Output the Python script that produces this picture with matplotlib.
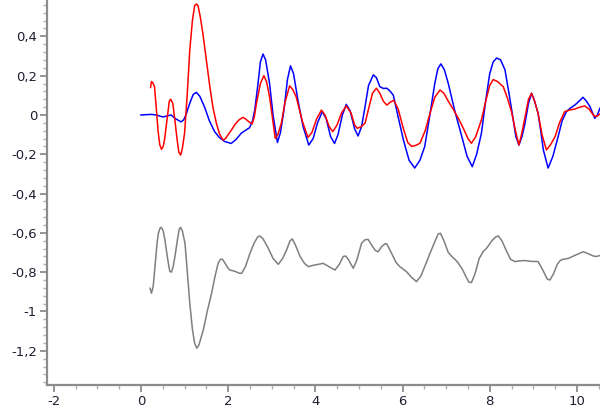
import numpy as np
import matplotlib
matplotlib.use("Agg")
import matplotlib.pyplot as plt
from matplotlib.ticker import MultipleLocator, FuncFormatter

# blue series (x, y)
blue_x = [0.0, 0.23, 0.35, 0.5, 0.6, 0.69, 0.8, 0.92, 0.98, 1.03, 1.12, 1.2, 1.27, 1.35, 1.46,
          1.57, 1.69, 1.8, 1.92, 2.07, 2.18, 2.30, 2.40, 2.49, 2.56, 2.61, 2.68, 2.74, 2.80, 2.86,
          2.95, 3.03, 3.13, 3.2, 3.28, 3.36, 3.43, 3.50, 3.60, 3.72, 3.85, 3.95, 4.05, 4.16, 4.25,
          4.35, 4.44, 4.52, 4.62, 4.71, 4.80, 4.90, 4.98, 5.06, 5.14, 5.22, 5.33, 5.40, 5.48, 5.56,
          5.64, 5.72, 5.79, 5.9, 6.02, 6.15, 6.28, 6.40, 6.51, 6.62, 6.74, 6.81, 6.88, 6.96, 7.05,
          7.2, 7.36, 7.48, 7.60, 7.70, 7.81, 7.9, 8.0, 8.08, 8.16, 8.25, 8.35, 8.45, 8.54, 8.60,
          8.67, 8.74, 8.81, 8.89, 8.96, 9.03, 9.11, 9.17, 9.23, 9.34, 9.45, 9.57, 9.66, 9.76, 9.85,
          9.95, 10.05, 10.14, 10.22, 10.30, 10.36, 10.41, 10.47, 10.53]
blue_y = [0.0, 0.003, 0.0, -0.01, -0.005, 0.0, -0.02, -0.035, -0.025, 0.0, 0.06, 0.105, 0.115, 0.095, 0.04,
          -0.03, -0.085, -0.115, -0.135, -0.145, -0.125, -0.093, -0.078, -0.065, -0.03, 0.025, 0.15, 0.27, 0.31, 0.28,
          0.16, 0.0, -0.14, -0.09, 0.025, 0.18, 0.25, 0.21, 0.076, -0.06, -0.153, -0.12, -0.04, 0.017, -0.02,
          -0.11, -0.145, -0.1, 0.0, 0.054, 0.02, -0.07, -0.107, -0.06, 0.042, 0.15, 0.204, 0.19, 0.144, 0.135,
          0.136, 0.12, 0.10, -0.01, -0.127, -0.23, -0.27, -0.23, -0.16, -0.01, 0.16, 0.235, 0.26, 0.23, 0.16,
          0.02, -0.11, -0.21, -0.263, -0.2, -0.093, 0.06, 0.21, 0.27, 0.29, 0.28, 0.23, 0.1, -0.025, -0.11,
          -0.153, -0.11, -0.042, 0.06, 0.11, 0.07, 0.008, -0.08, -0.178, -0.27, -0.21, -0.11, -0.03, 0.017, 0.035,
          0.05, 0.07, 0.09, 0.07, 0.042, 0.01, -0.017, 0.0, 0.035]

# red series
red_x = [0.22, 0.24, 0.27, 0.31, 0.35, 0.39, 0.43, 0.47, 0.51, 0.54, 0.6, 0.65, 0.68, 0.73, 0.78,
         0.83, 0.87, 0.91, 0.95, 1.0, 1.06, 1.12, 1.18, 1.23, 1.27, 1.31, 1.36, 1.42, 1.5, 1.58,
         1.65, 1.73, 1.80, 1.88, 1.94, 2.0, 2.08, 2.15, 2.25, 2.34, 2.40, 2.45, 2.55, 2.60, 2.65,
         2.74, 2.82, 2.88, 2.95, 3.02, 3.08, 3.14, 3.22, 3.30, 3.41, 3.48, 3.56, 3.70, 3.83, 3.92,
         4.03, 4.14, 4.22, 4.32, 4.40, 4.50, 4.60, 4.71, 4.82, 4.90, 4.96, 5.05, 5.14, 5.22, 5.31,
         5.40, 5.48, 5.56, 5.64, 5.72, 5.80, 5.90, 6.02, 6.12, 6.21, 6.30, 6.40, 6.52, 6.62, 6.74,
         6.86, 6.95, 7.05, 7.16, 7.28, 7.40, 7.50, 7.58, 7.68, 7.81, 7.92, 8.0, 8.08, 8.18, 8.31,
         8.40, 8.50, 8.59, 8.67, 8.74, 8.81, 8.89, 8.96, 9.03, 9.11, 9.20, 9.30, 9.40, 9.50, 9.60,
         9.72, 9.83, 9.95, 10.07, 10.18, 10.28, 10.36, 10.41, 10.47, 10.53]
red_y = [0.14, 0.17, 0.165, 0.144, 0.04, -0.076, -0.15, -0.175, -0.16, -0.127, -0.02, 0.07, 0.08, 0.06, -0.03,
         -0.127, -0.19, -0.204, -0.17, -0.093, 0.1, 0.33, 0.48, 0.555, 0.565, 0.555, 0.5, 0.415, 0.28, 0.144,
         0.04, -0.042, -0.095, -0.127, -0.12, -0.10, -0.075, -0.05, -0.025, -0.012, -0.02, -0.03, -0.046, -0.01, 0.06,
         0.16, 0.20, 0.17, 0.093, -0.02, -0.119, -0.1, -0.042, 0.06, 0.148, 0.13, 0.093, -0.03, -0.114, -0.09,
         -0.02, 0.025, 0.0, -0.06, -0.085, -0.05, 0.01, 0.046, 0.01, -0.05, -0.068, -0.06, -0.042, 0.03, 0.11,
         0.136, 0.11, 0.07, 0.05, 0.065, 0.075, 0.03, -0.07, -0.14, -0.16, -0.155, -0.144, -0.08, 0.0, 0.09,
         0.127, 0.11, 0.07, 0.03, -0.017, -0.07, -0.12, -0.144, -0.11, -0.025, 0.08, 0.15, 0.18, 0.17, 0.144,
         0.09, 0.017, -0.08, -0.153, -0.09, -0.01, 0.08, 0.11, 0.07, 0.008, -0.1, -0.178, -0.15, -0.11, -0.04,
         0.017, 0.025, 0.03, 0.04, 0.046, 0.03, 0.005, -0.008, -0.005, 0.005]

# gray series
gray_x = [0.21, 0.24, 0.28, 0.33, 0.37, 0.40, 0.44, 0.47, 0.51, 0.55, 0.61, 0.66, 0.70, 0.74, 0.78,
          0.84, 0.88, 0.91, 0.95, 1.01, 1.06, 1.12, 1.18, 1.23, 1.28, 1.33, 1.43, 1.52, 1.62, 1.70,
          1.77, 1.82, 1.87, 1.93, 2.0, 2.04, 2.15, 2.25, 2.31, 2.40, 2.50, 2.60, 2.68, 2.73, 2.80,
          2.92, 3.03, 3.15, 3.25, 3.34, 3.42, 3.47, 3.54, 3.65, 3.75, 3.84, 3.95, 4.07, 4.18, 4.30,
          4.45, 4.55, 4.64, 4.70, 4.77, 4.87, 4.95, 5.06, 5.14, 5.21, 5.30, 5.38, 5.44, 5.52, 5.60,
          5.64, 5.74, 5.85, 5.94, 6.09, 6.20, 6.32, 6.42, 6.53, 6.63, 6.75, 6.82, 6.87, 6.95, 7.05,
          7.13, 7.25, 7.36, 7.45, 7.52, 7.58, 7.66, 7.76, 7.85, 7.93, 8.05, 8.14, 8.20, 8.28, 8.38,
          8.48, 8.58, 8.70, 8.81, 8.95, 9.11, 9.22, 9.32, 9.38, 9.46, 9.55, 9.62, 9.69, 9.80, 9.92,
          10.05, 10.15, 10.25, 10.38, 10.45, 10.53]
gray_y = [-0.882, -0.907, -0.874, -0.75, -0.65, -0.602, -0.575, -0.572, -0.59, -0.636, -0.73, -0.795, -0.8, -0.77, -0.72,
          -0.63, -0.58, -0.572, -0.59, -0.653, -0.79, -0.958, -1.09, -1.16, -1.187, -1.17, -1.094, -1.0, -0.907, -0.82,
          -0.755, -0.735, -0.734, -0.755, -0.78, -0.789, -0.795, -0.805, -0.806, -0.77, -0.704, -0.65, -0.62, -0.616, -0.63,
          -0.678, -0.73, -0.76, -0.73, -0.687, -0.64, -0.631, -0.66, -0.72, -0.755, -0.772, -0.765, -0.76, -0.755, -0.77,
          -0.789, -0.76, -0.72, -0.718, -0.74, -0.78, -0.74, -0.653, -0.635, -0.633, -0.665, -0.69, -0.696, -0.67, -0.655,
          -0.656, -0.7, -0.75, -0.772, -0.797, -0.825, -0.848, -0.82, -0.76, -0.704, -0.64, -0.605, -0.602, -0.64, -0.70,
          -0.72, -0.745, -0.78, -0.82, -0.85, -0.853, -0.81, -0.73, -0.695, -0.678, -0.64, -0.62, -0.616, -0.64, -0.69,
          -0.735, -0.746, -0.742, -0.741, -0.745, -0.746, -0.79, -0.835, -0.84, -0.81, -0.76, -0.74, -0.734, -0.73, -0.718,
          -0.705, -0.696, -0.705, -0.718, -0.72, -0.715]

plt.rcParams['axes.unicode_minus'] = False
plt.rcParams['font.family'] = ['DejaVu Sans']

fig = plt.figure(figsize=(6, 4.15), dpi=100)
ax = fig.add_axes([0.078, 0.0723, 0.922, 0.9277])

ax.plot(gray_x, gray_y, color='#7f7f7f', lw=1.1)
ax.plot(blue_x, blue_y, color='#0000ff', lw=1.1)
ax.plot(red_x, red_y, color='#ff0000', lw=1.1)

ax.set_xlim(-2.16, 10.53)
ax.set_ylim(-1.374, 0.585)

for s in ['top', 'right']:
    ax.spines[s].set_visible(False)
for s in ['left', 'bottom']:
    ax.spines[s].set_color('#8c8c8c')
    ax.spines[s].set_linewidth(1.6)

def comma(v, pos):
    v = round(v, 6)
    if v == 0:
        return '0'
    return ('%g' % v).replace('.', ',')

ax.xaxis.set_major_locator(MultipleLocator(2))
ax.xaxis.set_minor_locator(MultipleLocator(0.5))
ax.yaxis.set_major_locator(MultipleLocator(0.2))
ax.yaxis.set_minor_locator(MultipleLocator(0.04))
ax.xaxis.set_major_formatter(FuncFormatter(comma))
ax.yaxis.set_major_formatter(FuncFormatter(comma))

ax.tick_params(which='major', length=5, width=1.3, color='#8c8c8c', labelsize=9.5,
               labelcolor='#1e1e32', pad=2)
ax.tick_params(which='minor', length=3, width=1.0, color='#b0b0b0')

fig.savefig('out.png', dpi=100)
